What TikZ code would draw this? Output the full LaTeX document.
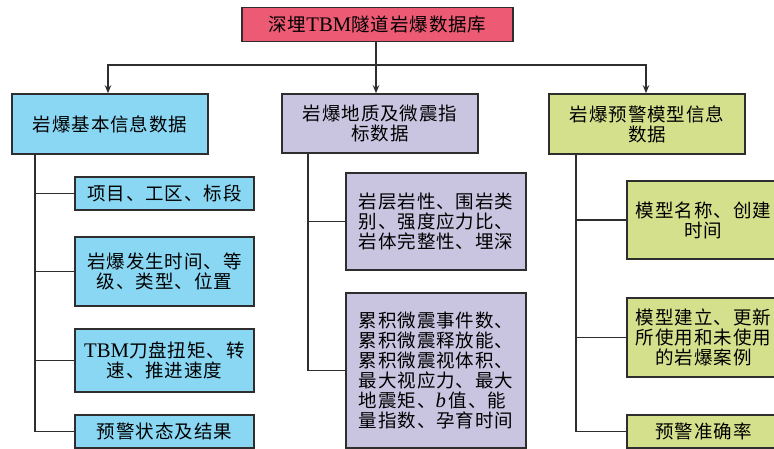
\documentclass[tikz,border=0pt]{standalone}
\usepackage{fontspec}
\setmainfont{Liberation Serif}[Scale=1.12]
\newfontfamily\cjk{Noto Sans CJK SC}[LetterSpace=5]
\usetikzlibrary{arrows.meta}
\definecolor{cTop}{HTML}{EC5A73}
\definecolor{cBlue}{HTML}{8AD7F3}
\definecolor{cLav}{HTML}{C9C5E1}
\definecolor{cGreen}{HTML}{D4E08B}
\definecolor{cLine}{HTML}{2E2E2E}
\newcommand{\lat}[1]{{\rmfamily #1}}
\tikzset{
  box/.style={draw=cLine, line width=1.6pt, rectangle, inner sep=0pt, align=center,
    font=\cjk\fontsize{18.5}{20}\selectfont},
  conn/.style={draw=cLine, line width=1.4pt},
  arr/.style={conn, -{Stealth[length=8pt,width=6.5pt]}}
}
\begin{document}
\begin{tikzpicture}[x=1pt,y=-1pt]
\useasboundingbox (0,0) rectangle (774,449);
\clip (0,0) rectangle (774,449);
% top
\node[box, fill=cTop, minimum width=271pt, minimum height=34pt] (top) at (377.5,24.5) {深埋\lat{TBM}隧道岩爆数据库};
% level 1
\node[box, fill=cBlue, minimum width=196pt, minimum height=60pt] (L0) at (110,124) {岩爆基本信息数据};
\node[box, fill=cLav, minimum width=196pt, minimum height=59pt] (M0) at (380,123.5) {岩爆地质及微震指\\标数据};
\node[box, fill=cGreen, minimum width=196pt, minimum height=60pt] (R0) at (647,124) {岩爆预警模型信息\\数据};
% left children
\node[box, fill=cBlue, minimum width=179pt, minimum height=33pt] (L1) at (164.5,193.5) {项目、工区、标段};
\node[box, fill=cBlue, minimum width=179pt, minimum height=69pt] (L2) at (164.5,271.5) {岩爆发生时间、等\\级、类型、位置};
\node[box, fill=cBlue, minimum width=179pt, minimum height=63pt] (L3) at (164.5,360.5) {\lat{TBM}刀盘扭矩、转\\速、推进速度};
\node[box, fill=cBlue, minimum width=179pt, minimum height=33pt] (L4) at (164.5,431.5) {预警状态及结果};
% middle children
\node[box, fill=cLav, minimum width=180pt, minimum height=97pt] (M1) at (436,221.5) {岩层岩性、围岩类\\别、强度应力比、\\岩体完整性、埋深};
\node[box, fill=cLav, minimum width=180pt, minimum height=155pt, align=left] (M2) at (436,370.5) {累积微震事件数、\\累积微震释放能、\\累积微震视体积、\\最大视应力、最大\\地震矩、\lat{\textit{b}}\,值、能\\量指数、孕育时间};
% right children
\node[box, fill=cGreen, minimum width=153pt, minimum height=78pt] (R1) at (703.5,220) {模型名称、创建\\时间};
\node[box, fill=cGreen, minimum width=153pt, minimum height=79pt] (R2) at (703.5,337.5) {模型建立、更新\\所使用和未使用\\的岩爆案例};
\node[box, fill=cGreen, minimum width=153pt, minimum height=33pt] (R3) at (703.5,431.5) {预警准确率};
% bus
\coordinate (bus) at (376,65);
\draw[conn] (top.south -| bus) -- (bus);
\draw[arr] (bus) -| (L0.north -| 108,0);
\draw[arr] (bus) -| (R0.north -| 646,0);
\draw[arr] (bus) -- (M0.north -| bus);
% left spine
\draw[conn] (L0.south -| 35,0) |- (L4.west);
\draw[conn] (L1.west -| 35,0) -- (L1.west);
\draw[conn] (L2.west -| 35,0) -- (L2.west);
\draw[conn] (L3.west -| 35,0) -- (L3.west);
% middle spine
\draw[conn] (M0.south -| 308,0) |- (M2.west);
\draw[conn] (M1.west -| 308,0) -- (M1.west);
% right spine
\draw[conn] (R0.south -| 576,0) |- (R3.west);
\draw[conn] (R1.west -| 576,0) -- (R1.west);
\draw[conn] (R2.west -| 576,0) -- (R2.west);
\end{tikzpicture}
\end{document}
